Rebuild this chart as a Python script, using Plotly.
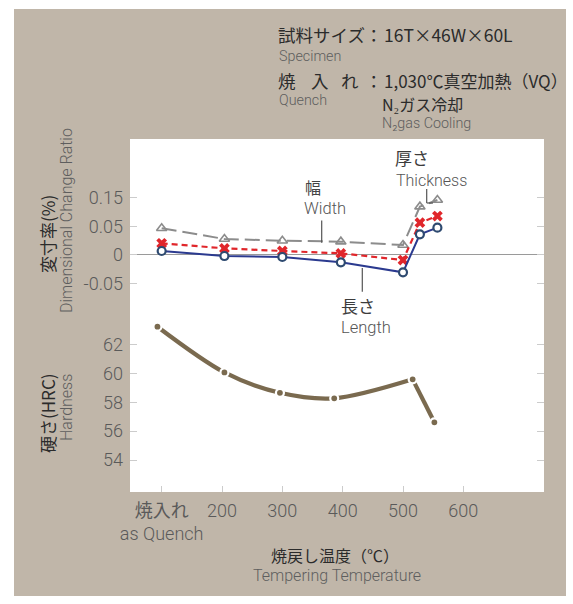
import plotly.graph_objects as go

# ---- data -------------------------------------------------------------
temp_dim = [100, 204, 300, 397, 500, 528, 557]          # 100 = as quenched
length_chg = [0.0070, -0.0018, -0.0035, -0.0129, -0.0304, 0.0363, 0.0480]
thick_chg = [0.0205, 0.0117, 0.0070, 0.0029, -0.0088, 0.0567, 0.0684]
width_chg = [0.0468, 0.0281, 0.0251, 0.0234, 0.0175, 0.0848, 0.0965]

temp_hrc = [93, 204, 296, 386, 516, 552]
hardness = [63.22, 60.06, 58.65, 58.27, 59.58, 56.61]

x_tickvals = [100, 200, 300, 400, 500, 600]
x_ticktext = ["<span style='font-family:Noto Sans CJK JP;font-weight:400'>"
              "焼入れ</span><br>as Quench", "200", "300", "400", "500", "600"]
dim_tickvals = [-0.05, 0, 0.05, 0.10]
dim_ticktext = ["-0.05", "0", "0.05", "0.15"]
hrc_tickvals = [54, 56, 58, 60, 62]

# ---- layout geometry (pixels) ----------------------------------------
W, H = 573, 604
L, R, T, B = 130, 29, 139, 112
PW, PH = W - L - R, H - T - B

def px(x):
    return (x - L) / PW

def py(y):
    return (H - B - y) / PH

JP = "Noto Sans CJK JP"
EN = "Roboto, Noto Sans CJK JP"
DARK = "#2b2b2b"
SUB = "#5e5e5e"
TICK = "#5a5a5a"
BG = "#c0b6a9"

fig = go.Figure()

# dimensional change series
fig.add_trace(go.Scatter(
    x=temp_dim, y=width_chg, mode="lines+markers",
    line=dict(color="#8c8c8c", width=2, dash="15px,6px"),
    marker=dict(symbol="triangle-up-open", size=9, color="#8c8c8c",
                line=dict(width=1.6)),
    yaxis="y", showlegend=False))
fig.add_trace(go.Scatter(
    x=temp_dim, y=thick_chg, mode="lines+markers",
    line=dict(color="#e0262b", width=2.2, dash="6px,4px"),
    marker=dict(symbol="x", size=9.5, color="#e0262b", line=dict(width=0)),
    yaxis="y", showlegend=False))
fig.add_trace(go.Scatter(
    x=temp_dim, y=length_chg, mode="lines+markers",
    line=dict(color="#2b3a8f", width=2),
    marker=dict(symbol="circle", size=8, color="white",
                line=dict(color="#2e4a70", width=2.2)),
    yaxis="y", showlegend=False))

# hardness: smooth curve up to the hump, straight drop afterwards
fig.add_trace(go.Scatter(
    x=temp_hrc[:5], y=hardness[:5], mode="lines",
    line=dict(color="#7a6a4f", width=4.2, shape="spline", smoothing=0.9),
    yaxis="y2", showlegend=False))
fig.add_trace(go.Scatter(
    x=temp_hrc[4:], y=hardness[4:], mode="lines",
    line=dict(color="#7a6a4f", width=4.2),
    yaxis="y2", showlegend=False))
fig.add_trace(go.Scatter(
    x=temp_hrc, y=hardness, mode="markers",
    marker=dict(symbol="circle", size=8, color="#7a6a4f",
                line=dict(color="white", width=2.2)),
    yaxis="y2", showlegend=False))

shapes = [
    dict(type="rect", xref="paper", yref="paper", layer="below",
         x0=px(14), x1=px(566), y0=py(596), y1=py(9),
         fillcolor=BG, line=dict(width=0)),
    dict(type="rect", xref="paper", yref="paper", layer="below",
         x0=0, x1=1, y0=0, y1=1, fillcolor="white", line=dict(width=0)),
]
# leader lines for series labels
lead = dict(color="#555555", width=1.2)
shapes += [
    dict(type="line", xref="paper", yref="paper", x0=px(321.7), x1=px(321.7),
         y0=py(220.5), y1=py(242.7), line=lead),
    dict(type="line", xref="paper", yref="paper", x0=px(362.3), x1=px(362.3),
         y0=py(268), y1=py(291.7), line=lead),
    dict(type="line", xref="paper", yref="paper", x0=px(426.7), x1=px(426.7),
         y0=py(189), y1=py(203), line=lead),
    dict(type="line", xref="paper", yref="paper", x0=px(426.7), x1=px(433),
         y0=py(203), y1=py(203), line=lead),
]

def note(text, x, y, size, color, anchor="left", angle=0, family=JP,
         weight=None):
    font = dict(family=family, size=size, color=color)
    if weight is not None:
        font["weight"] = weight
    return dict(text=text, xref="paper", yref="paper", x=px(x), y=py(y),
                xanchor=anchor, yanchor="middle", showarrow=False,
                textangle=angle, font=font)

annotations = [
    # specimen / heat treatment block
    note("試料サイズ", 276, 35, 17.5, DARK),
    note("：", 374, 35, 17.5, DARK, "center"),
    note("16T×46W×60L", 382, 35, 17.5, DARK),
    note("Specimen", 277, 56, 14.3, SUB, family=EN, weight=300),
    note("焼", 276, 80.5, 17.5, DARK),
    note("入", 309, 80.5, 17.5, DARK),
    note("れ", 339, 80.5, 17.5, DARK),
    note("：", 374, 80.5, 17.5, DARK, "center"),
    note("1,030℃真空加熱（VQ）", 382, 80, 17, DARK),
    note("Quench", 277, 100, 14.3, SUB, family=EN, weight=300),
    note("N₂ガス冷却", 380, 103.5, 16, DARK),
    note("N₂gas Cooling", 380, 122.5, 14.3, SUB, family=EN, weight=300),

    # series labels
    note("厚さ", 393, 157, 17, "#3c3c3c"),
    note("Thickness", 394, 180, 16, "#555555", family=EN, weight=300),
    note("幅", 303, 187, 16, "#444444"),
    note("Width", 302, 208, 16.5, "#555555", family=EN, weight=300),
    note("長さ", 339, 305, 17, "#3c3c3c"),
    note("Length", 339, 327, 16.5, "#555555", family=EN, weight=300),

    # axis titles
    note("変寸率(%)", 47, 234, 17, DARK, "center", -90),
    note("Dimensional Change Ratio", 66, 221, 16, SUB, "center", -90,
         family=EN, weight=300),
    note("硬さ(HRC)", 47, 413, 17, DARK, "center", -90),
    note("Hardness", 66, 408, 16, SUB, "center", -90, family=EN, weight=300),
    note("焼戻し温度（℃）", 335, 555, 16, DARK, "center"),
    note("Tempering Temperature", 337, 575, 16, SUB, "center",
         family=EN, weight=300),
]

tickfont = dict(family=EN, size=18, color=TICK, weight=300)
fig.update_layout(
    width=W, height=H, autosize=False,
    margin=dict(l=L, r=R, t=T, b=B, pad=0),
    paper_bgcolor="white", plot_bgcolor="white",
    shapes=shapes, annotations=annotations,
    xaxis=dict(range=[47.5, 733.7], tickvals=x_tickvals, ticktext=x_ticktext,
               ticks="inside", ticklen=6, tickcolor="#cccccc",
               showgrid=False, zeroline=False, showline=False,
               tickfont=tickfont, ticklabelstandoff=6),
    yaxis=dict(range=[-0.4158, 0.2035], tickvals=dim_tickvals,
               ticktext=dim_ticktext, ticks="inside", ticklen=7,
               tickcolor="#cccccc", mirror="ticks", showgrid=False,
               showline=False, zeroline=True, zerolinecolor="#9a9a9a",
               zerolinewidth=1, tickfont=tickfont, ticklabelstandoff=6),
    yaxis2=dict(range=[51.79, 76.2], tickvals=hrc_tickvals,
                overlaying="y", side="left", anchor="x",
                ticks="inside", ticklen=7, tickcolor="#cccccc",
                mirror="ticks", showgrid=False, showline=False,
                zeroline=False, tickfont=tickfont, ticklabelstandoff=6),
)

fig.write_html("out.html")
